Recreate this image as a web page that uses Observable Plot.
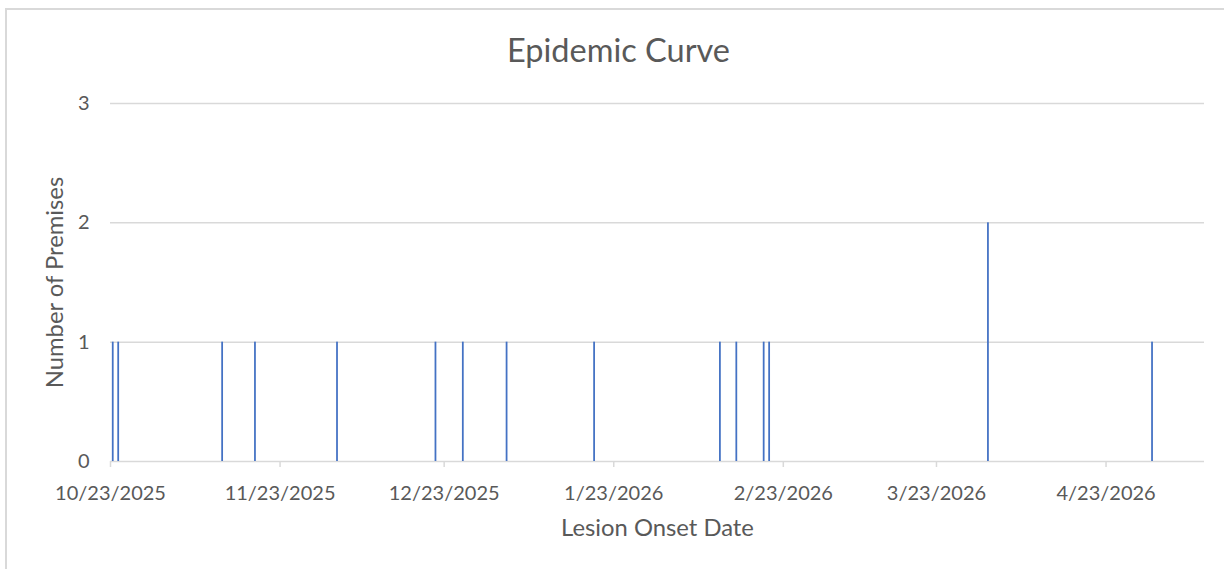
<!DOCTYPE html>
<html><head><meta charset="utf-8">
<script src="https://cdn.jsdelivr.net/npm/d3@7"></script>
<script src="https://cdn.jsdelivr.net/npm/@observablehq/plot@0.6"></script>
<style>
html,body{margin:0;padding:0;background:#fff;overflow:hidden;}
#wrap{position:relative;width:1224px;height:569px;overflow:hidden;}
#border{position:absolute;left:5px;top:8px;width:1300px;height:700px;border-left:2px solid #d9d9d9;border-top:2px solid #d9d9d9;}
#chart{position:absolute;left:0;top:0;}
</style></head><body>
<div id="wrap"><div id="border"></div><div id="chart"></div></div>
<script>
// Lesion onset dates and number of premises per date
const onsetDates = ["2025-10-23","2025-10-24","2025-11-12","2025-11-18","2025-12-03","2025-12-21","2025-12-26","2026-01-03","2026-01-19","2026-02-11","2026-02-14","2026-02-19","2026-02-20","2026-04-01","2026-05-01"];
const premisesCounts = [1,1,1,1,1,1,1,1,1,1,1,1,1,2,1];
const xTickDates = ["2025-10-23","2025-11-23","2025-12-23","2026-01-23","2026-02-23","2026-03-23","2026-04-23"];
const xDomain = ["2025-10-23","2026-05-11"];
const yTicks = [0,1,2,3];
const chartTitle = "Epidemic Curve";
const xLabel = "Lesion Onset Date";
const yLabel = "Number of Premises";

const toDate = s => new Date(s + "T00:00:00Z");
const data = onsetDates.map((d, i) => ({date: toDate(d), count: premisesCounts[i]}));
const fmt = d => `${d.getUTCMonth() + 1}/${d.getUTCDate()}/${d.getUTCFullYear()}`;
const font = "Lato, 'Open Sans', sans-serif";
const textColor = "#595959";
const gridColor = "#d9d9d9";

const plot = Plot.plot({
  width: 1224, height: 569,
  marginLeft: 110, marginRight: 20, marginTop: 103, marginBottom: 108,
  style: {fontFamily: font, color: textColor, background: "transparent", overflow: "visible"},
  x: {type: "utc", domain: xDomain.map(toDate)},
  y: {domain: [0, 3]},
  marks: [
    Plot.gridY(yTicks.filter(v => v > 0), {stroke: gridColor, strokeOpacity: 1, strokeWidth: 1.5}),
    Plot.ruleY([0], {stroke: gridColor, strokeWidth: 1.5}),
    Plot.rectY(data, {x: "date", y: "count", interval: "day", fill: "#4472C4", insetLeft: 1.85, insetRight: 1.85}),
    Plot.axisX({ticks: xTickDates.map(toDate), tickFormat: fmt, tickSize: 6, tickPadding: 18, stroke: gridColor, strokeWidth: 1.5, fill: textColor, fontSize: 20, label: null}),
    Plot.axisY({ticks: yTicks, tickFormat: d => String(d), tickSize: 0, tickPadding: 21, fill: textColor, fontSize: 20, label: null}),
    Plot.text([chartTitle], {frameAnchor: "top", lineAnchor: "middle", textAnchor: "middle", dx: -39, dy: -52, fontSize: 32.5, fill: textColor}),
    Plot.text([xLabel], {frameAnchor: "bottom", lineAnchor: "middle", textAnchor: "middle", dy: 67, fontSize: 23.8, fill: textColor}),
    Plot.text([yLabel], {frameAnchor: "left", lineAnchor: "middle", textAnchor: "middle", dx: -55, rotate: -90, fontSize: 23.8, fill: textColor})
  ]
});
document.getElementById("chart").appendChild(plot);
</script>
</body></html>
